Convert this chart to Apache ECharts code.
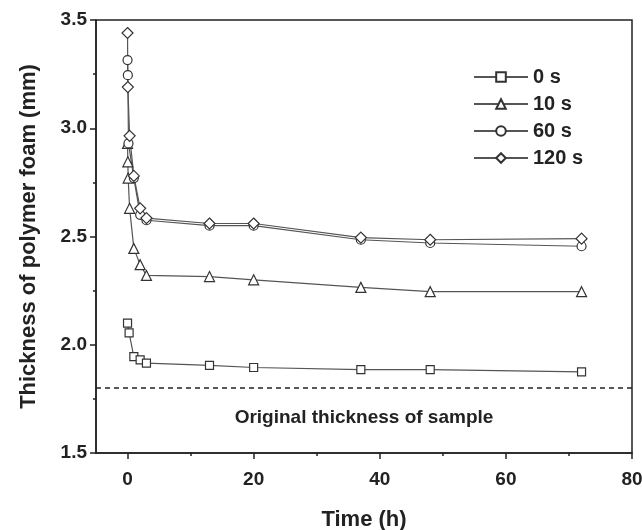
<!DOCTYPE html>
<html>
<head>
<meta charset="utf-8">
<script src="https://cdn.jsdelivr.net/npm/echarts@6/dist/echarts.min.js"></script>
<style>
html, body { margin: 0; padding: 0; background: #fff; }
#main { width: 642px; height: 530px; }
</style>
</head>
<body>
<div id="main"></div>
<script>
// time (h) and thickness (mm) per compression time
var seriesNames = ['0 s', '10 s', '60 s', '120 s'];

var times0 = [0, 0.25, 1, 2, 3, 13, 20, 37, 48, 72];
var vals0 = [2.10, 2.055, 1.945, 1.93, 1.915, 1.905, 1.895, 1.885, 1.885, 1.875];

var times10 = [0, 0.05, 0.1, 0.33, 1, 2, 3, 13, 20, 37, 48, 72];
var vals10 = [2.93, 2.845, 2.77, 2.63, 2.445, 2.37, 2.32, 2.315, 2.30, 2.265, 2.245, 2.245];

var times60 = [0, 0.05, 0.15, 1, 2, 3, 13, 20, 37, 48, 72];
var vals60 = [3.315, 3.245, 2.93, 2.77, 2.60, 2.575, 2.55, 2.55, 2.485, 2.47, 2.455];

var times120 = [0, 0.05, 0.33, 1, 2, 3, 13, 20, 37, 48, 72];
var vals120 = [3.44, 3.19, 2.965, 2.78, 2.63, 2.585, 2.56, 2.56, 2.495, 2.485, 2.49];

var xTicks = [0, 20, 40, 60, 80];
var xMinorTicks = [10, 30, 50, 70];
var originalThickness = 1.8;

var font = 'Liberation Sans, Arial, sans-serif';
var ink = '#222';

function pairs(t, v) {
    var out = [];
    for (var i = 0; i < t.length; i++) out.push([t[i], v[i]]);
    return out;
}

function makeSeries(name, t, v, symbol, size) {
    return {
        name: name,
        type: 'line',
        xAxisIndex: 0,
        data: pairs(t, v),
        symbol: symbol,
        symbolSize: size,
        showAllSymbol: true,
        lineStyle: { color: '#555', width: 1.2 },
        itemStyle: { color: '#fff', borderColor: '#333', borderWidth: 1.2 },
        z: 3
    };
}

var series = [
    makeSeries(seriesNames[0], times0, vals0, 'rect', 8),
    makeSeries(seriesNames[1], times10, vals10, 'triangle', 10),
    makeSeries(seriesNames[2], times60, vals60, 'circle', 9),
    makeSeries(seriesNames[3], times120, vals120, 'diamond', 11)
];
// dashed line for the original thickness
series[0].markLine = {
    silent: true,
    symbol: 'none',
    lineStyle: { color: ink, type: [5, 4], width: 1.5 },
    label: {
        show: true,
        position: 'insideMiddleBottom',
        distance: 20,
        formatter: 'Original thickness of sample',
        color: ink,
        fontFamily: font,
        fontWeight: 'bold',
        fontSize: 19
    },
    data: [{ yAxis: originalThickness }]
};

var myChart = echarts.init(document.getElementById('main'));

var option = {
    animation: false,
    backgroundColor: '#fff',
    grid: {
        left: 96, right: 10, top: 20, bottom: 77,
        outerBoundsMode: 'none',
        show: true, borderColor: ink, borderWidth: 1.5
    },
    legend: {
        orient: 'vertical',
        left: 468,
        top: 62,
        itemWidth: 54,
        itemHeight: 12,
        itemGap: 7,
        data: seriesNames,
        textStyle: { color: ink, fontFamily: font, fontWeight: 'bold', fontSize: 20, lineHeight: 20 }
    },
    xAxis: [{
        type: 'value',
        min: -5,
        max: 80,
        name: 'Time (h)',
        nameLocation: 'middle',
        nameGap: 56,
        nameTextStyle: { color: ink, fontFamily: font, fontWeight: 'bold', fontSize: 22 },
        axisLine: { show: true, onZero: false, lineStyle: { color: ink, width: 1.5 } },
        axisTick: { show: true, length: 6, customValues: xTicks, lineStyle: { color: ink, width: 1.5 } },
        axisLabel: { customValues: xTicks, margin: 17, color: ink, fontFamily: font, fontWeight: 'bold', fontSize: 19 },
        splitLine: { show: false }
    }, {
        // minor ticks only
        type: 'value',
        position: 'bottom',
        min: -5,
        max: 80,
        axisLine: { show: false, onZero: false },
        axisTick: { show: true, length: 3, customValues: xMinorTicks, lineStyle: { color: ink, width: 1.5 } },
        axisLabel: { show: false },
        splitLine: { show: false }
    }],
    yAxis: {
        type: 'value',
        min: 1.5,
        max: 3.5,
        interval: 0.5,
        name: 'Thickness of polymer foam (mm)',
        nameLocation: 'middle',
        nameGap: 56,
        nameTextStyle: { color: ink, fontFamily: font, fontWeight: 'bold', fontSize: 22 },
        axisLine: { show: true, onZero: false, lineStyle: { color: ink, width: 1.5 } },
        axisTick: { show: true, length: 6, lineStyle: { color: ink, width: 1.5 } },
        minorTick: { show: true, splitNumber: 2, length: 3, lineStyle: { color: ink, width: 1.5 } },
        axisLabel: {
            margin: 9, color: ink, fontFamily: font, fontWeight: 'bold', fontSize: 19,
            formatter: function (v) { return v.toFixed(1); }
        },
        splitLine: { show: false }
    },
    series: series
};

myChart.setOption(option);
</script>
</body>
</html>
